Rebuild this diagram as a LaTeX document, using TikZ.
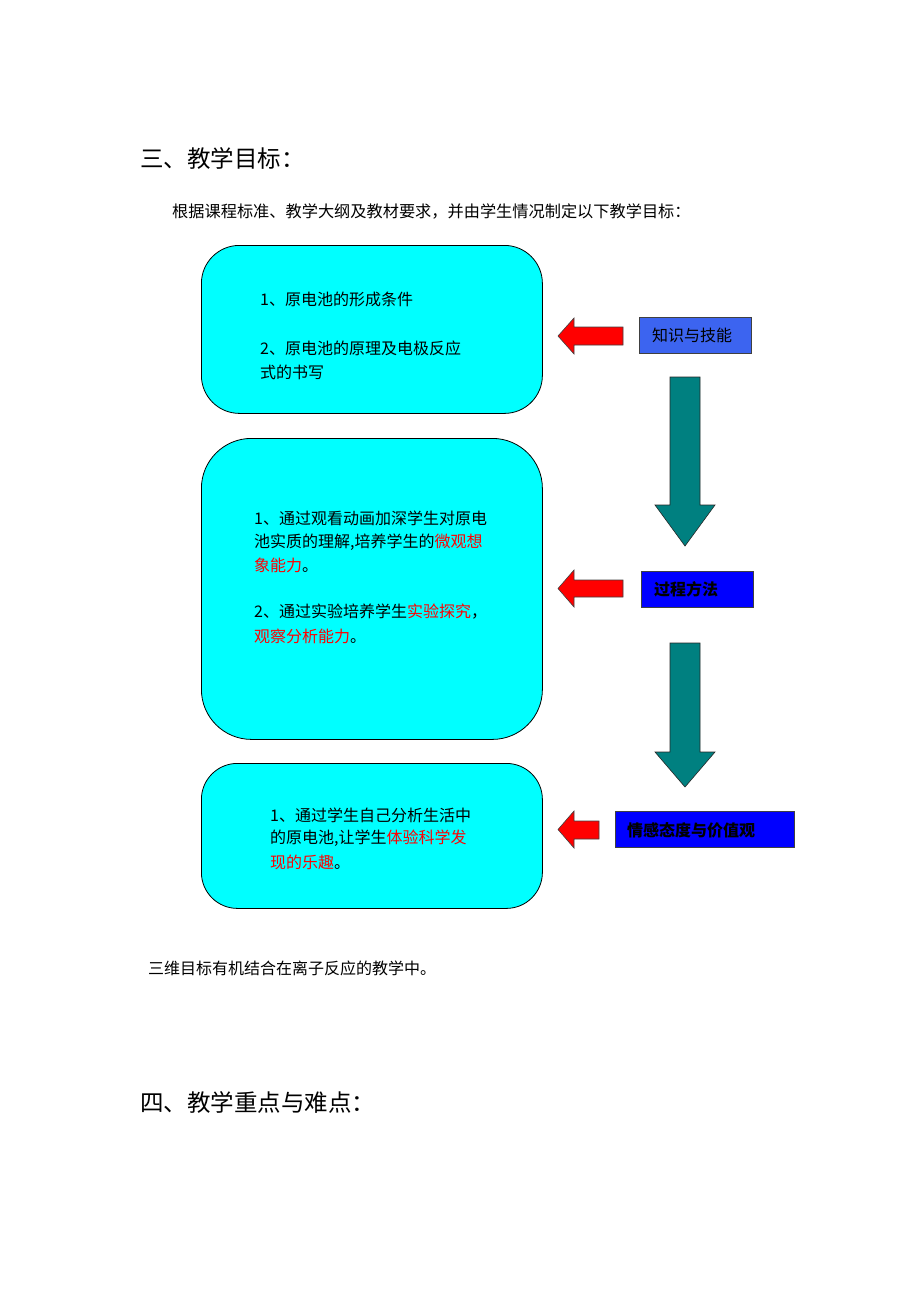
\documentclass[tikz,border=0pt]{standalone}
\usepackage{fontspec}
\newfontfamily\cjk{Noto Sans CJK SC}
\definecolor{boxcyan}{RGB}{0,255,255}
\definecolor{lblblue}{RGB}{60,100,240}
\definecolor{pureblue}{RGB}{0,0,255}
\definecolor{tealarrow}{RGB}{0,128,128}
\begin{document}
\begin{tikzpicture}[x=1pt,y=-1pt,
  goalbox/.style={draw=black, line width=0.8pt, fill=boxcyan, anchor=north west, minimum width=341pt},
  txt/.style={inner sep=0pt, anchor=west, font=\cjk\fontsize{16}{19}\selectfont},
  ttl/.style={inner sep=0pt, anchor=west, font=\cjk\fontsize{23.5}{28}\selectfont},
  lblbox/.style={draw=black!75, line width=0.8pt, anchor=north west, inner sep=0pt},
  lbltxt/.style={inner sep=0pt, anchor=west, font=\cjk\fontsize{16}{19}\selectfont},
  redarrow/.style={fill=red, draw=black!75, line width=0.6pt, line join=miter},
  downarrow/.style={fill=tealarrow, draw=black!85, line width=0.6pt, line join=miter}]
\fill[white] (0,0) rectangle (920,1302);
\useasboundingbox (0,0) rectangle (920,1302);

% titles
\node[ttl] (t1) at (140,158) {三、教学目标：};
\node[txt, font=\cjk\fontsize{16.2}{19}\selectfont] (sub) at (172,211) {根据课程标准、教学大纲及教材要求，并由学生情况制定以下教学目标：};

% goal boxes
\node[goalbox, rounded corners=38pt, minimum height=168pt] (g1) at (201,245) {};
\node[goalbox, rounded corners=50pt, minimum height=301pt] (g2) at (201,438) {};
\node[goalbox, rounded corners=36pt, minimum height=145pt] (g3) at (201,763) {};

% box 1 text
\node[txt] (g1a) at (260,299) {1、原电池的形成条件};
\node[txt] (g1b) at (260,348) {2、原电池的原理及电极反应};
\node[txt] (g1c) at (260,372) {式的书写};

% box 2 text
\node[txt] (g2a) at (254,518) {1、通过观看动画加深学生对原电};
\node[txt] (g2b) at (254,542) {池实质的理解,培养学生的{\color{red}微观想}};
\node[txt] (g2c) at (254,565) {{\color{red}象能力}。};
\node[txt] (g2d) at (254,612) {2、通过实验培养学生{\color{red}实验探究}，};
\node[txt] (g2e) at (254,636) {{\color{red}观察分析能力}。};

% box 3 text
\node[txt] (g3a) at (270,815) {1、通过学生自己分析生活中};
\node[txt] (g3b) at (270,838) {的原电池,让学生{\color{red}体验科学发}};
\node[txt] (g3c) at (270,862) {{\color{red}现的乐趣}。};

% label boxes
\node[lblbox, fill=lblblue, minimum width=112pt, minimum height=36pt] (k1) at (639,317) {};
\node[lbltxt] (k1t) at (652,335) {知识与技能};
\node[lblbox, fill=pureblue, minimum width=112pt, minimum height=36pt] (k2) at (641,571) {};
\node[lbltxt, font=\cjk\bfseries\fontsize{16}{19}\selectfont] (k2t) at (654,589) {过程方法};
\node[lblbox, fill=pureblue, minimum width=179pt, minimum height=36pt] (k3) at (615,811) {};
\node[lbltxt, font=\cjk\bfseries\fontsize{16}{19}\selectfont] (k3t) at (627,830) {情感态度与价值观};

% red arrows
\draw[redarrow] (558,336) -- (574,318) -- (574,327) -- (623,327) -- (623,345) -- (574,345) -- (574,354) -- cycle;
\draw[redarrow] (558,588.5) -- (574,570) -- (574,580) -- (623,580) -- (623,597) -- (574,597) -- (574,607) -- cycle;
\draw[redarrow] (558,829.5) -- (574,811) -- (574,821) -- (599,821) -- (599,839) -- (574,839) -- (574,848) -- cycle;

% teal down arrows
\draw[downarrow] (670,377) -- (700,377) -- (700,505) -- (715,505) -- (685,546) -- (655,505) -- (670,505) -- cycle;
\draw[downarrow] (670,643) -- (700,643) -- (700,752) -- (715,752) -- (685,787) -- (655,752) -- (670,752) -- cycle;

% closing texts
\node[txt] (c1) at (148,968) {三维目标有机结合在离子反应的教学中。};
\node[ttl] (t2) at (140,1102) {四、教学重点与难点：};
\end{tikzpicture}
\end{document}
